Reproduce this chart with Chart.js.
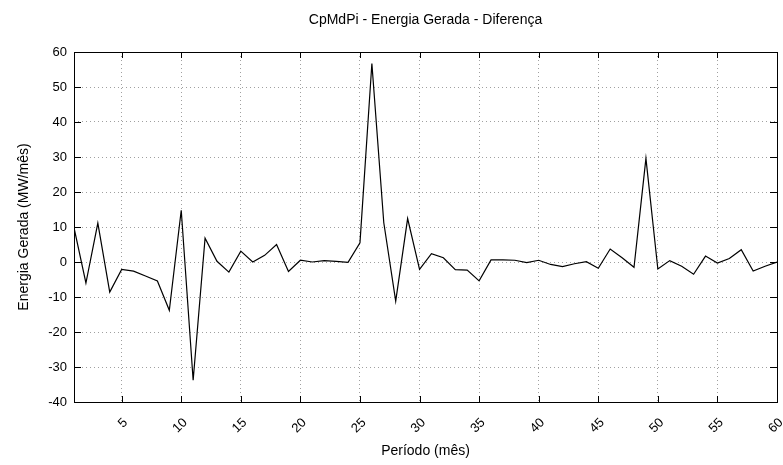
<!DOCTYPE html>
<html>
<head>
<meta charset="utf-8">
<script src="https://cdn.jsdelivr.net/npm/chart.js@4"></script>
<style>
  body { margin: 0; background: #fff; }
  #wrap { width: 783px; height: 465px; }
</style>
</head>
<body>
<div id="wrap"><canvas id="chart" width="783" height="465"></canvas></div>
<script>
// data
let months = [];
for (let m = 1; m <= 60; m++) months.push(m);

let diffs = [
  9.8, -6.0, 11.1, -8.6, -2.1, -2.6, -4.0, -5.4, -13.8, 14.8,
  -33.8, 6.8, 0.2, -2.9, 3.1, 0.0, 1.9, 5.0, -2.7, 0.5,
  0.0, 0.4, 0.2, -0.1, 5.5, 56.7, 11.2, -11.2, 12.4, -2.1,
  2.4, 1.2, -2.2, -2.3, -5.4, 0.6, 0.6, 0.5, -0.2, 0.5,
  -0.7, -1.3, -0.5, 0.1, -1.8, 3.7, 1.2, -1.5, 29.6, -2.0,
  0.4, -1.2, -3.5, 1.7, -0.3, 1.0, 3.5, -2.6, -1.2, 0.0
];

let xTicks = [5, 10, 15, 20, 25, 30, 35, 40, 45, 50, 55, 60];
let yTicks = [-40, -30, -20, -10, 0, 10, 20, 30, 40, 50, 60];

const FONT = "'Liberation Sans', Arial, Helvetica, sans-serif";

// frame + inward tick marks like gnuplot
const framePlugin = {
  id: "frame",
  afterDraw(c) {
    const ctx = c.ctx;
    const a = c.chartArea;
    const xs = c.scales.x, ys = c.scales.y;
    ctx.save();
    ctx.strokeStyle = "#000";
    ctx.lineWidth = 1;
    ctx.beginPath();
    xTicks.forEach(v => {
      let px = Math.round(xs.getPixelForValue(v)) + 0.5;
      ctx.moveTo(px, a.bottom); ctx.lineTo(px, a.bottom - 6);
      ctx.moveTo(px, a.top); ctx.lineTo(px, a.top + 6);
    });
    yTicks.forEach(v => {
      let py = Math.round(ys.getPixelForValue(v)) + 0.5;
      ctx.moveTo(a.left, py); ctx.lineTo(a.left + 7, py);
      ctx.moveTo(a.right, py); ctx.lineTo(a.right - 7, py);
    });
    ctx.stroke();
    ctx.strokeRect(Math.round(a.left) + 0.5, Math.round(a.top) + 0.5,
      Math.round(a.right - a.left), Math.round(a.bottom - a.top));
    ctx.restore();
  }
};

let chart = new Chart(document.getElementById("chart"), {
  type: "line",
  data: {
    datasets: [{
      data: months.map((m, i) => ({ x: m, y: diffs[i] })),
      borderColor: "#000",
      borderWidth: 1.2,
      pointRadius: 0,
      tension: 0,
      fill: false
    }]
  },
  options: {
    responsive: false,
    animation: false,
    layout: { padding: { left: 0, right: 6, top: 0, bottom: 0 } },
    plugins: {
      legend: { display: false },
      tooltip: { enabled: false },
      title: {
        display: true,
        fullSize: false,
        text: "CpMdPi - Energia Gerada - Diferença",
        color: "#000",
        font: { family: FONT, size: 14, weight: "normal", lineHeight: 1.2 },
        padding: { top: 12, bottom: 23.2 }
      }
    },
    scales: {
      x: {
        type: "linear",
        min: 1,
        max: 60,
        afterBuildTicks: s => { s.ticks = xTicks.map(v => ({ value: v })); },
        afterFit: s => { s.height = 63; s.paddingLeft = 0; s.paddingRight = 0; },
        grid: { color: "#a0a0a0", lineWidth: 1, drawTicks: false },
        border: { display: false, dash: [1, 3] },
        ticks: {
          color: "#000",
          font: { family: FONT, size: 13 },
          maxRotation: 45,
          minRotation: 45,
          labelOffset: 4,
          padding: 13
        },
        title: {
          display: true,
          text: "Período (mês)",
          color: "#000",
          font: { family: FONT, size: 14 },
          padding: { top: 0, bottom: 5 }
        }
      },
      y: {
        min: -40,
        max: 60,
        afterBuildTicks: s => { s.ticks = yTicks.map(v => ({ value: v })); },
        afterFit: s => { s.width = 74; s.paddingTop = 0; s.paddingBottom = 0; },
        grid: { color: "#a0a0a0", lineWidth: 1, drawTicks: false },
        border: { display: false, dash: [1, 3] },
        ticks: {
          color: "#000",
          font: { family: FONT, size: 13 },
          padding: 7
        },
        title: {
          display: true,
          text: "Energia Gerada (MW/mês)",
          color: "#000",
          font: { family: FONT, size: 14 },
          padding: { top: 16, bottom: 0 }
        }
      }
    }
  },
  plugins: [framePlugin]
});
</script>
</body>
</html>
